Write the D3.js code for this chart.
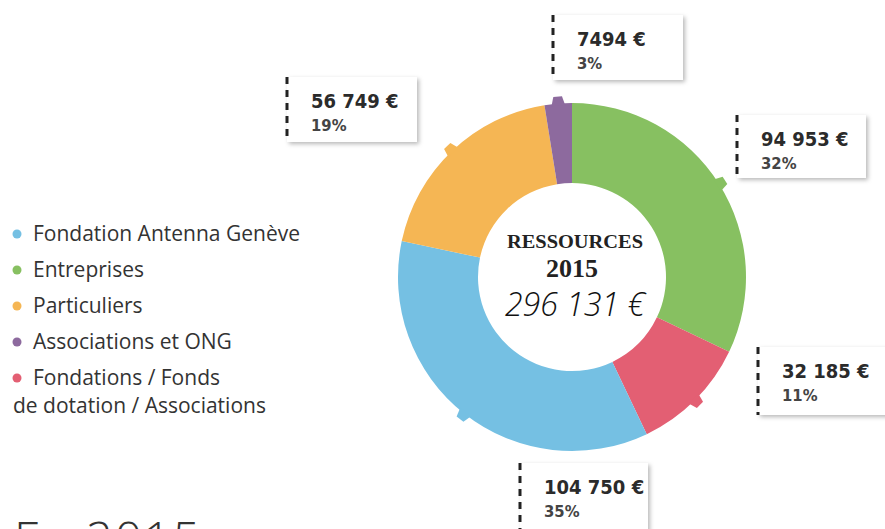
<!DOCTYPE html>
<html>
<head>
<meta charset="utf-8">
<script src="https://cdn.jsdelivr.net/npm/d3@7"></script>
<style>
  html, body { margin: 0; padding: 0; background: #fff; overflow: hidden; }
  svg { display: block; }
</style>
</head>
<body>
<svg id="chart" width="885" height="529"></svg>
<script>
// ---- data ----
const categories = ["Fondation Antenna Genève", "Entreprises", "Particuliers", "Associations et ONG", "Fondations / Fonds de dotation / Associations"];
const values = [104750, 94953, 56749, 7494, 32185];
const valueLabels = ["104 750 €", "94 953 €", "56 749 €", "7494 €", "32 185 €"];
const percentLabels = ["35%", "32%", "19%", "3%", "11%"];
const colors = ["#75c0e3", "#87c061", "#f5b654", "#8d6a9e", "#e35f73"];
const pieOrder = [1, 4, 0, 2, 3]; // clockwise from 12 o'clock
const centerTitle = ["RESSOURCES", "2015"];
const totalLabel = "296 131 €";
const footer = "En 2015";

// ---- layout ----
const cx = 572, cy = 277, rOuter = 174, rInner = 94;
const boxes = [
  { x: 520, y: 463, w: 128, h: 80 },  // Fondation Antenna Genève
  { x: 737, y: 115, w: 129, h: 63 },  // Entreprises
  { x: 287, y: 77,  w: 130, h: 65 },  // Particuliers
  { x: 553, y: 15,  w: 130, h: 65 },  // Associations et ONG
  { x: 758, y: 347, w: 140, h: 68 }   // Fondations
];

const svg = d3.select("#chart");
const defs = svg.append("defs");
const f = defs.append("filter").attr("id", "shadow").attr("x", "-10%").attr("y", "-10%").attr("width", "130%").attr("height", "140%");
f.append("feDropShadow").attr("dx", 2).attr("dy", 2).attr("stdDeviation", 2).attr("flood-color", "#000").attr("flood-opacity", 0.28);

// ---- donut ----
const pie = d3.pie().sort(null).value(i => values[i]);
const arcs = pie(pieOrder);
const arc = d3.arc().innerRadius(rInner).outerRadius(rOuter);
const g = svg.append("g").attr("transform", `translate(${cx},${cy})`);

g.selectAll("path.slice").data(arcs).join("path")
  .attr("class", "slice")
  .attr("d", arc)
  .attr("fill", d => colors[d.data]);

// small tabs at each slice's mid angle
g.selectAll("path.tab").data(arcs).join("path")
  .attr("class", "tab")
  .attr("fill", d => colors[d.data])
  .attr("d", d => {
    const a = (d.startAngle + d.endAngle) / 2;
    const p = (ang, r) => [Math.sin(ang) * r, -Math.cos(ang) * r];
    const da = 0.04;
    const pts = [p(a - da, rOuter - 2), p(a - da * 0.6, rOuter + 7), p(a + da * 0.6, rOuter + 7), p(a + da, rOuter - 2)];
    return "M" + pts.map(q => q.join(",")).join("L") + "Z";
  });

// center text
g.append("text").attr("x", 3).attr("y", -29).attr("text-anchor", "middle")
  .attr("font-family", "Liberation Serif, serif").attr("font-weight", "bold")
  .attr("font-size", 19).attr("fill", "#222")
  .attr("textLength", 136).attr("lengthAdjust", "spacingAndGlyphs")
  .text(centerTitle[0]);
g.append("text").attr("x", 0).attr("y", 0).attr("text-anchor", "middle")
  .attr("font-family", "Liberation Serif, serif").attr("font-weight", "bold")
  .attr("font-size", 26).attr("fill", "#222")
  .text(centerTitle[1]);
g.append("text").attr("x", 3).attr("y", 39).attr("text-anchor", "middle")
  .attr("font-family", "Open Sans, sans-serif").attr("font-weight", 300).attr("font-style", "italic")
  .attr("font-size", 33).attr("fill", "#111")
  .attr("textLength", 140).attr("lengthAdjust", "spacingAndGlyphs")
  .text(totalLabel);

// ---- label boxes ----
const lb = svg.selectAll("g.lbl").data(d3.range(categories.length)).join("g").attr("class", "lbl");
lb.append("rect")
  .attr("x", i => boxes[i].x).attr("y", i => boxes[i].y)
  .attr("width", i => boxes[i].w).attr("height", i => boxes[i].h)
  .attr("fill", "#fff").attr("filter", "url(#shadow)");
lb.append("line")
  .attr("x1", i => boxes[i].x).attr("x2", i => boxes[i].x)
  .attr("y1", i => boxes[i].y).attr("y2", i => boxes[i].y + boxes[i].h)
  .attr("stroke", "#222").attr("stroke-width", 3).attr("stroke-dasharray", "7,6");
lb.append("text")
  .attr("x", i => boxes[i].x + 24).attr("y", i => boxes[i].y + 31)
  .attr("font-family", "DejaVu Sans Condensed, DejaVu Sans, sans-serif").attr("font-weight", "bold")
  .attr("font-size", 20).attr("fill", "#2b2b2b")
  .text(i => valueLabels[i]);
lb.append("text")
  .attr("x", i => boxes[i].x + 24).attr("y", i => boxes[i].y + 54)
  .attr("font-family", "DejaVu Sans Condensed, DejaVu Sans, sans-serif").attr("font-weight", "bold")
  .attr("font-size", 16.5).attr("fill", "#444")
  .text(i => percentLabels[i]);

// ---- legend ----
const legendY = [241, 277, 313, 349, 385];
const leg = svg.append("g").attr("font-family", "Open Sans, sans-serif").attr("font-size", 21).attr("fill", "#333");
categories.forEach((c, i) => {
  leg.append("circle").attr("cx", 17).attr("cy", legendY[i] - 7).attr("r", 4.5).attr("fill", colors[i]);
  if (i === 4) {
    leg.append("text").attr("x", 33).attr("y", legendY[i]).text("Fondations / Fonds");
    leg.append("text").attr("x", 13).attr("y", legendY[i] + 28).text("de dotation / Associations");
  } else {
    leg.append("text").attr("x", 33).attr("y", legendY[i]).text(c);
  }
});

// ---- footer ----
svg.append("text").attr("x", 14).attr("y", 556)
  .attr("font-family", "Open Sans, sans-serif").attr("font-weight", 300)
  .attr("font-size", 48).attr("letter-spacing", 1.5).attr("fill", "#333")
  .text(footer);
</script>
</body>
</html>
